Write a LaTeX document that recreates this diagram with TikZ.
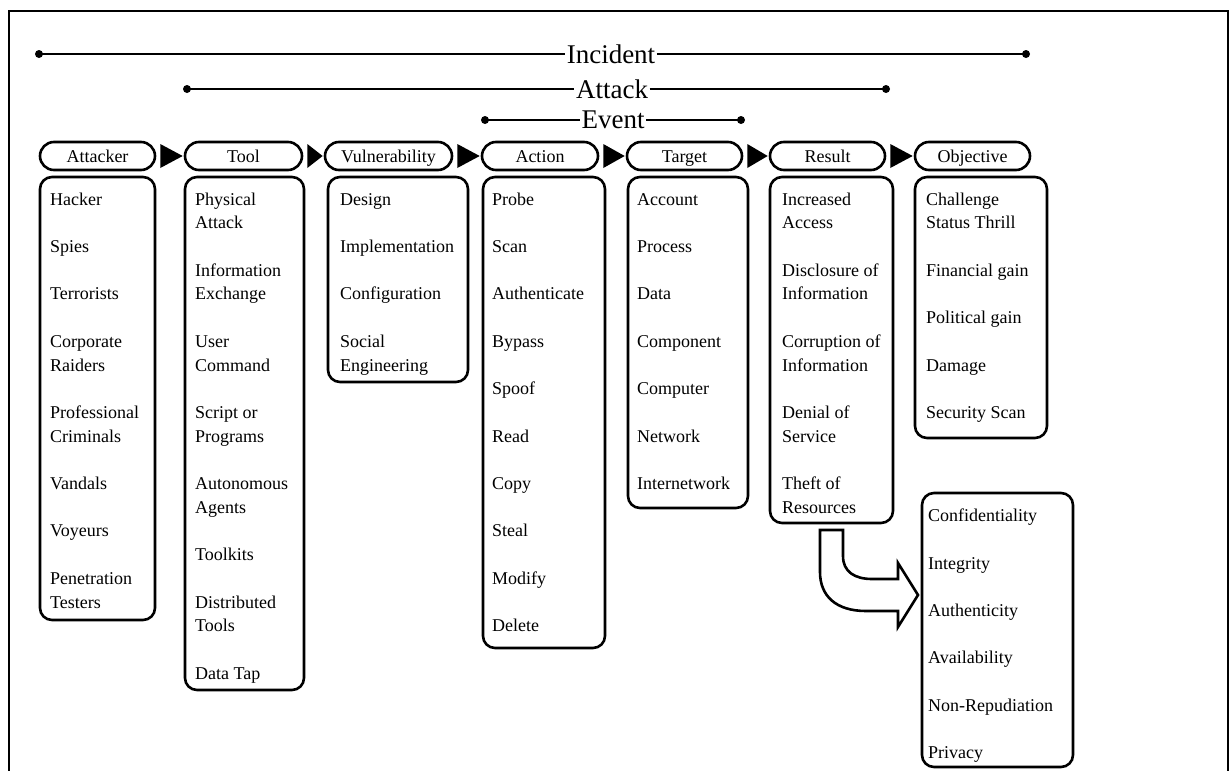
\documentclass[tikz,border=0pt]{standalone}
\usepackage{fontspec}
\setmainfont{Liberation Serif}
\usetikzlibrary{calc,shapes.misc}
\begin{document}
\begin{tikzpicture}[x=1pt,y=-1pt,
 pill/.style={rounded rectangle, draw, line width=2.6pt, minimum height=28pt, inner sep=0pt, text height=15pt, text depth=2pt, font=\fontsize{18}{20}\selectfont},
 listbox/.style={draw, line width=2.6pt, rounded corners=12pt, inner sep=0pt},
 listtext/.style={anchor=north west, inner sep=0pt, align=left, font=\fontsize{18}{23.7}\selectfont},
 span/.style={fill=white, inner sep=1.5pt, font=\fontsize{27}{30}\selectfont},
 spanline/.style={line width=1.2pt},
 dot/.style={circle, fill=black, inner sep=0pt, minimum size=8pt},
 flowtri/.style={fill=black}
]
\useasboundingbox (0,0) rectangle (1232,771);
\fill[white] (0,0) rectangle (1232,771);
% frame
\draw[line width=1.3pt] (9,775) -- (9,11) -- (1228,11) -- (1228,775);

% spans
\node[dot] (incL) at (39,54) {};
\node[dot] (incR) at (1026,54) {};
\node[span] (inc) at (611,54) {Incident};
\draw[spanline] (incL.center) -- (inc.west);
\draw[spanline] (inc.east) -- (incR.center);

\node[dot] (atkL) at (187,89) {};
\node[dot] (atkR) at (886,89) {};
\node[span] (atk) at (612,89) {Attack};
\draw[spanline] (atkL.center) -- (atk.west);
\draw[spanline] (atk.east) -- (atkR.center);

\node[dot] (evtL) at (485,120) {};
\node[dot] (evtR) at (741,120) {};
\node[span] (evt) at (613,120) {Event};
\draw[spanline] (evtL.center) -- (evt.west);
\draw[spanline] (evt.east) -- (evtR.center);

% header pills
\node[pill, minimum width=115pt] (attp) at (97.5,156) {Attacker};
\node[pill, minimum width=117pt] (toolp) at (243.5,156) {Tool};
\node[pill, minimum width=127pt] (vulp) at (388.5,156) {Vulnerability};
\node[pill, minimum width=116pt] (actp) at (540,156) {Action};
\node[pill, minimum width=115pt] (tgtp) at (684.5,156) {Target};
\node[pill, minimum width=115pt] (resp) at (827.5,156) {Result};
\node[pill, minimum width=115pt] (objp) at (972.5,156) {Objective};

% triangles between pills
\foreach \a/\b in {attp/toolp, toolp/vulp, vulp/actp, actp/tgtp, tgtp/resp, resp/objp}{
  \fill[flowtri] ($(\a.east)+(4,-12)$) -- ($(\a.east)+(4,12)$) -- ($(\b.west)+(-1,0)$) -- cycle;
}

% list boxes
\node[listbox, minimum width=115pt, minimum height=443pt] (attbox) at (97.5,398.5) {};
\node[listbox, minimum width=119pt, minimum height=513pt] (toolbox) at (244.5,433.5) {};
\node[listbox, minimum width=140pt, minimum height=205pt] (vulbox) at (398,279.5) {};
\node[listbox, minimum width=122pt, minimum height=471pt] (actbox) at (544,412.5) {};
\node[listbox, minimum width=120pt, minimum height=331pt] (tgtbox) at (688,342.5) {};
\node[listbox, minimum width=123pt, minimum height=346pt] (resbox) at (831.5,350) {};
\node[listbox, minimum width=132pt, minimum height=261pt] (objbox) at (981,307.5) {};
\node[listbox, minimum width=151pt, minimum height=274pt] (ciabox) at (997.5,630) {};

% list texts
\node[listtext] (atttext) at (50,188.4) {\strut Hacker\\[23.7pt]Spies\\[23.7pt]Terrorists\\[23.7pt]Corporate\\Raiders\\[23.7pt]Professional\\Criminals\\[23.7pt]Vandals\\[23.7pt]Voyeurs\\[23.7pt]Penetration\\Testers};
\node[listtext] (tooltext) at (195,188.4) {\strut Physical\\Attack\\[23.7pt]Information\\Exchange\\[23.7pt]User\\Command\\[23.7pt]Script or\\Programs\\[23.7pt]Autonomous\\Agents\\[23.7pt]Toolkits\\[23.7pt]Distributed\\Tools\\[23.7pt]Data Tap};
\node[listtext] (vultext) at (340,188.4) {\strut Design\\[23.7pt]Implementation\\[23.7pt]Configuration\\[23.7pt]Social\\Engineering};
\node[listtext] (acttext) at (492,188.4) {\strut Probe\\[23.7pt]Scan\\[23.7pt]Authenticate\\[23.7pt]Bypass\\[23.7pt]Spoof\\[23.7pt]Read\\[23.7pt]Copy\\[23.7pt]Steal\\[23.7pt]Modify\\[23.7pt]Delete};
\node[listtext] (tgttext) at (637,188.4) {\strut Account\\[23.7pt]Process\\[23.7pt]Data\\[23.7pt]Component\\[23.7pt]Computer\\[23.7pt]Network\\[23.7pt]Internetwork};
\node[listtext] (restext) at (782,188.4) {\strut Increased\\Access\\[23.7pt]Disclosure of\\Information\\[23.7pt]Corruption of\\Information\\[23.7pt]Denial of\\Service\\[23.7pt]Theft of\\Resources};
\node[listtext] (objtext) at (926,188.4) {\strut Challenge\\Status Thrill\\[23.7pt]Financial gain\\[23.7pt]Political gain\\[23.7pt]Damage\\[23.7pt]Security Scan};
\node[listtext] (ciatext) at (928,505) {\strut Confidentiality\\[23.7pt]Integrity\\[23.7pt]Authenticity\\[23.7pt]Availability\\[23.7pt]Non-Repudiation\\[23.7pt]Privacy};

% curved hollow arrow from Result to the CIA box
\draw[line width=2.6pt, fill=white, line join=miter]
  (820,530) -- (843,530) -- (843,556)
  .. controls (843,572) and (855,579) .. (872,579)
  -- (898,579) -- (898,563) -- (918,595) -- (898,627) -- (898,611)
  -- (866,611)
  .. controls (836,611) and (820,596) .. (820,572)
  -- cycle;
\end{tikzpicture}
\end{document}
